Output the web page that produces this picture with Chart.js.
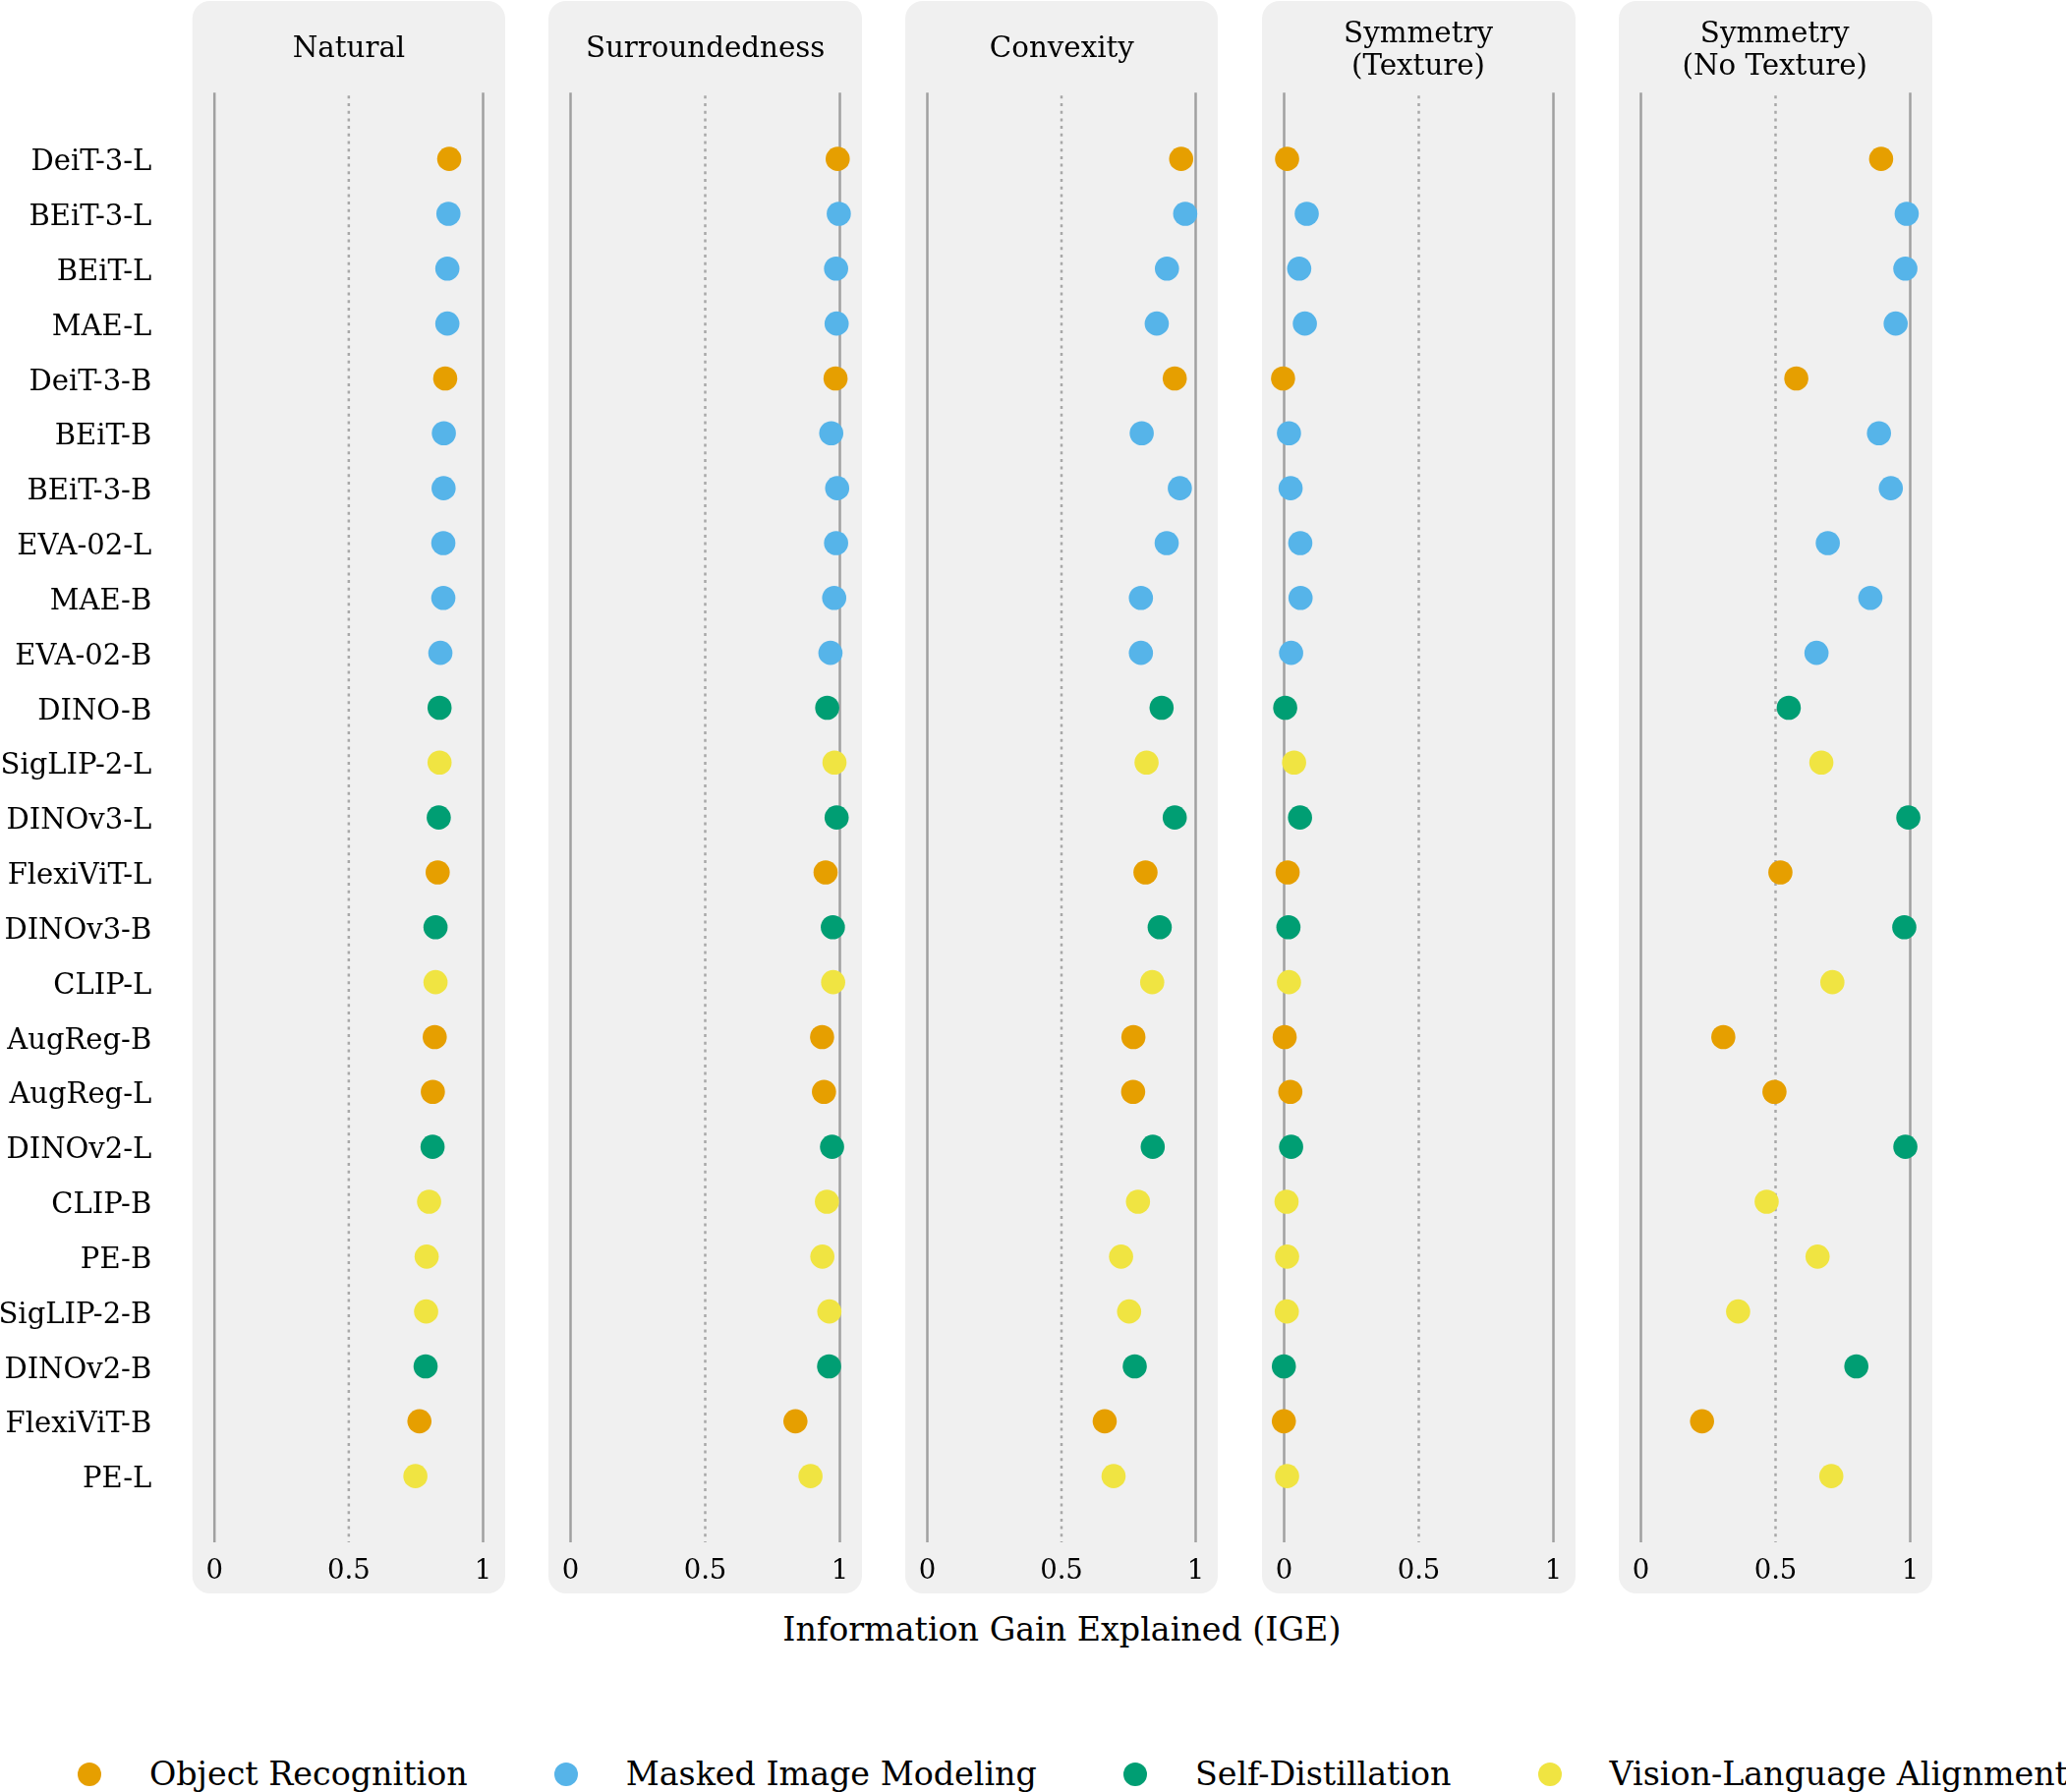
<!DOCTYPE html>
<html>
<head>
<meta charset="utf-8">
<script src="https://cdn.jsdelivr.net/npm/chart.js@4.4.1/dist/chart.umd.min.js"></script>
<style>
    body { margin: 0; background: #fff; font-family: 'DejaVu Serif', serif; color: #000; }
    #figure { position: relative; width: 2102px; height: 1823px; overflow: hidden; }
    #figure canvas { position: absolute; top: 0; }
    .panel-title { position: absolute; text-align: center; font-size: 29.3px; line-height: 33px; white-space: nowrap; }
    #axis_title { position: absolute; top: 1638px; font-size: 33.3px; line-height: 40px; text-align: center; white-space: nowrap; }
    #legend { position: absolute; left: 79px; top: 1785px; display: flex; align-items: center; font-size: 33.3px; line-height: 40px; white-space: nowrap; }
    #legend .dot { width: 24px; height: 24px; border-radius: 50%; margin-right: 49px; flex: none; }
    #legend .item { display: flex; align-items: center; margin-right: 88px; }
</style>
</head>
<body>
<div id="figure">
    <div id="axis_title">Information Gain Explained (IGE)</div>
    <div id="legend"></div>
</div>
<script>
const models = ['DeiT-3-L', 'BEiT-3-L', 'BEiT-L', 'MAE-L', 'DeiT-3-B', 'BEiT-B', 'BEiT-3-B', 'EVA-02-L', 'MAE-B',
    'EVA-02-B', 'DINO-B', 'SigLIP-2-L', 'DINOv3-L', 'FlexiViT-L', 'DINOv3-B', 'CLIP-L', 'AugReg-B', 'AugReg-L',
    'DINOv2-L', 'CLIP-B', 'PE-B', 'SigLIP-2-B', 'DINOv2-B', 'FlexiViT-B', 'PE-L'];

// 0 object recognition, 1 masked image modeling, 2 self-distillation, 3 vision-language alignment
const modelFamily = [0, 1, 1, 1, 0, 1, 1, 1, 1, 1, 2, 3, 2, 0, 2, 3, 0, 0, 2, 3, 3, 3, 2, 0, 3];

const families = ['Object Recognition', 'Masked Image Modeling', 'Self-Distillation', 'Vision-Language Alignment'];
const familyColors = ['#E69F00', '#56B4E9', '#009E73', '#F0E442'];

const panelTitles = [['Natural'], ['Surroundedness'], ['Convexity'], ['Symmetry', '(Texture)'], ['Symmetry', '(No Texture)']];

const natural = [0.874, 0.871, 0.867, 0.867, 0.859, 0.854, 0.853, 0.852, 0.852, 0.841, 0.838, 0.838, 0.835,
    0.831, 0.823, 0.823, 0.820, 0.813, 0.812, 0.799, 0.790, 0.788, 0.786, 0.763, 0.748];
const surroundedness = [0.992, 0.996, 0.986, 0.988, 0.984, 0.968, 0.990, 0.986, 0.979, 0.965, 0.953, 0.980, 0.988,
    0.947, 0.974, 0.975, 0.934, 0.941, 0.971, 0.952, 0.935, 0.961, 0.960, 0.835, 0.891];
const convexity = [0.946, 0.961, 0.893, 0.855, 0.922, 0.799, 0.941, 0.892, 0.796, 0.796, 0.873, 0.817, 0.922,
    0.813, 0.866, 0.838, 0.768, 0.767, 0.840, 0.785, 0.722, 0.752, 0.773, 0.661, 0.694];
const symmetryTexture = [0.011, 0.084, 0.056, 0.077, -0.004, 0.018, 0.024, 0.060, 0.061, 0.026, 0.004, 0.037, 0.059,
    0.013, 0.016, 0.018, 0.002, 0.023, 0.026, 0.009, 0.011, 0.010, -0.001, -0.001, 0.011];
const symmetryNoTexture = [0.892, 0.987, 0.982, 0.946, 0.577, 0.884, 0.928, 0.694, 0.852, 0.652, 0.549, 0.670, 0.993,
    0.518, 0.978, 0.711, 0.306, 0.496, 0.982, 0.467, 0.656, 0.361, 0.800, 0.227, 0.707];

const xTicks = [0, 0.5, 1];

const panelValues = [natural, surroundedness, convexity, symmetryTexture, symmetryNoTexture];

const panelLeft = [195.7, 558.4, 921.1, 1283.8, 1646.5];
const panelWidth = 318.5;
const panelHeight = 1621;
const sidePad = 22.5;
const labelAreaWidth = 218.2;

Chart.defaults.font.family = "'DejaVu Serif', serif";
Chart.defaults.color = '#000';

const panelBackground = {
    id: 'panel_background',
    beforeDraw(chart) {
        const {ctx, chartArea} = chart;
        const xScale = chart.scales.x;
        ctx.save();
        ctx.fillStyle = '#f0f0f0';
        ctx.beginPath();
        ctx.roundRect(xScale.left - sidePad, 1, xScale.width + 2 * sidePad, panelHeight - 1, 18);
        ctx.fill();
        xTicks.forEach(function (v) {
            const px = xScale.getPixelForValue(v);
            ctx.beginPath();
            ctx.lineWidth = 2.5;
            ctx.strokeStyle = v === 0.5 ? '#a8a8a8' : '#a0a0a0';
            ctx.setLineDash(v === 0.5 ? [3, 4.7] : []);
            ctx.moveTo(px, chartArea.top + (v === 0.5 ? 3 : 0));
            ctx.lineTo(px, chartArea.bottom);
            ctx.stroke();
        });
        ctx.restore();
    }
};

function renderPanel(values, p) {
    const first = p === 0;
    const left = first ? 0 : panelLeft[p];
    const canvas = document.createElement('canvas');
    canvas.width = Math.round(panelLeft[p] + panelWidth - left);
    canvas.height = panelHeight;
    canvas.style.left = left + 'px';
    document.getElementById('figure').appendChild(canvas);

    const title = document.createElement('div');
    title.className = 'panel-title';
    title.style.left = panelLeft[p] + 'px';
    title.style.width = panelWidth + 'px';
    title.style.top = (panelTitles[p].length > 1 ? 17 : 32) + 'px';
    title.innerHTML = panelTitles[p].join('<br>');
    document.getElementById('figure').appendChild(title);

    new Chart(canvas.getContext('2d'), {
        type: 'scatter',
        data: {
            datasets: families.map(function (name, f) {
                return {
                    label: name,
                    data: models.map(function (m, i) {
                        return {x: values[i], y: i, family: modelFamily[i]};
                    }).filter(function (d) {
                        return d.family === f;
                    }),
                    backgroundColor: familyColors[f],
                    borderWidth: 0,
                    pointRadius: 12.3,
                    pointHoverRadius: 12.3,
                    clip: false
                };
            })
        },
        options: {
            responsive: false,
            animation: false,
            devicePixelRatio: 1,
            layout: {padding: {top: 94.3, bottom: 0, left: first ? 0 : sidePad, right: sidePad}},
            plugins: {legend: {display: false}, tooltip: {enabled: false}},
            scales: {
                x: {
                    type: 'linear', min: 0, max: 1,
                    grid: {display: false, drawTicks: false},
                    border: {display: false},
                    afterBuildTicks: function (axis) {
                        axis.ticks = xTicks.map(function (v) { return {value: v}; });
                    },
                    afterFit: function (axis) { axis.height = 52; },
                    ticks: {padding: 13, font: {size: 27.5}, callback: function (v) { return String(v); }}
                },
                y: {
                    type: 'linear', reverse: true, min: -1.206, max: 25.206,
                    display: first,
                    grid: {display: false, drawTicks: false},
                    border: {display: false},
                    afterBuildTicks: function (axis) {
                        axis.ticks = models.map(function (m, i) { return {value: i}; });
                    },
                    afterFit: function (axis) {
                        if (first) axis.width = labelAreaWidth;
                        axis.paddingTop = 0;
                        axis.paddingBottom = 0;
                    },
                    ticks: {padding: 64, labelOffset: 4, autoSkip: false, font: {size: 29}, callback: function (v) { return models[v]; }}
                }
            }
        },
        plugins: [panelBackground]
    });
}

function renderLegend() {
    const legend = document.getElementById('legend');
    families.forEach(function (name, f) {
        const item = document.createElement('div');
        item.className = 'item';
        item.innerHTML = '<span class="dot" style="background:' + familyColors[f] + '"></span><span>' + name + '</span>';
        legend.appendChild(item);
    });
    const axisTitle = document.getElementById('axis_title');
    axisTitle.style.left = panelLeft[0] + 'px';
    axisTitle.style.width = (panelLeft[4] + panelWidth - panelLeft[0]) + 'px';
}

panelValues.forEach(renderPanel);
renderLegend();
</script>
</body>
</html>
